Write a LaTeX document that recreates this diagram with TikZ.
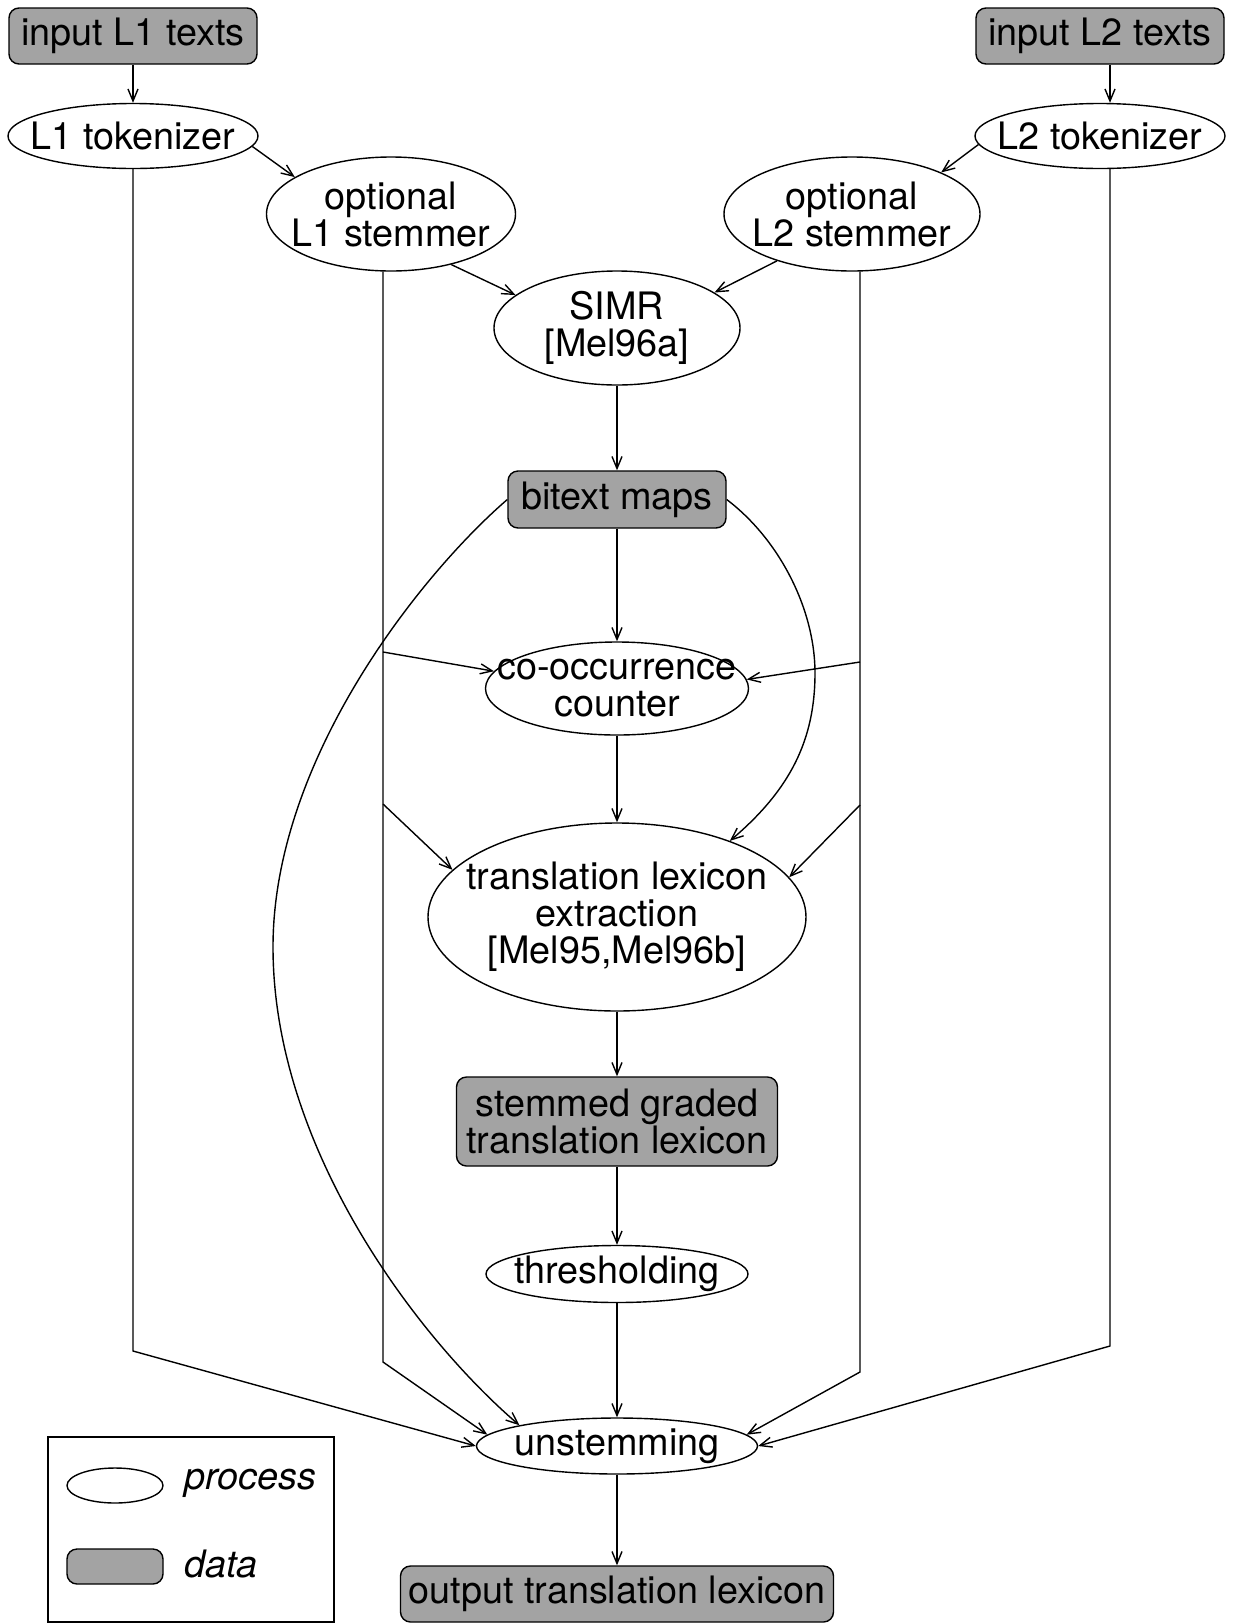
\documentclass[tikz,border=0pt]{standalone}
\usepackage{fontspec}
\setmainfont{TeX Gyre Heros}
\usetikzlibrary{arrows.meta,shapes.geometric}
\definecolor{datgray}{gray}{0.64}

\begin{document}
\begin{tikzpicture}[x=0.5pt, y=-0.5pt, >={Straight Barb[length=6pt,width=5pt]}, line width=0.7pt,
 proc/.style={draw, ellipse, inner xsep=-30pt, inner ysep=-20pt, align=center, font=\fontsize{18.9}{18.5}\selectfont},
 dat/.style={draw, rectangle, rounded corners=5pt, fill=datgray, inner sep=0pt, align=center, font=\fontsize{18.9}{18.5}\selectfont},
 leg/.style={font=\fontsize{18.9}{18.5}\selectfont\itshape, anchor=west, inner sep=0pt}]
\useasboundingbox (0,0) rectangle (1232,1623);
\node[dat, minimum width=124pt, minimum height=28pt] (in1) at (133,36) {input L1 texts};
\node[dat, minimum width=124pt, minimum height=28pt] (in2) at (1100,36) {input L2 texts};
\node[proc, minimum width=125pt, minimum height=32.5pt] (tok1) at (133,136) {L1 tokenizer};
\node[proc, minimum width=125pt, minimum height=32.5pt] (tok2) at (1100,136) {L2 tokenizer};
\node[proc, minimum width=124.5pt, minimum height=57pt] (stem1) at (391,214) {optional\\L1 stemmer};
\node[proc, minimum width=128pt, minimum height=57pt] (stem2) at (852,214) {optional\\L2 stemmer};
\node[proc, minimum width=123pt, minimum height=57pt] (simr) at (617,328) {SIMR\\{[Mel96a]}};
\node[dat, minimum width=109pt, minimum height=28.5pt] (bitext) at (617,499.5) {bitext maps};
\node[proc, minimum width=131.5pt, minimum height=46.5pt] (cooc) at (617,688.5) {co-occurrence\\counter};
\node[proc, minimum width=189pt, minimum height=94pt] (ext) at (617,917) {translation lexicon\\extraction\\{[Mel95,Mel96b]}};
\node[dat, minimum width=160.5pt, minimum height=44.5pt] (stemmed) at (617,1121.5) {stemmed graded\\translation lexicon};
\node[proc, minimum width=131pt, minimum height=28.5pt] (thr) at (617,1274) {thresholding};
\node[proc, minimum width=140.5pt, minimum height=28pt] (unstem) at (617,1446) {unstemming};
\node[dat, minimum width=216.5pt, minimum height=28pt] (out) at (617,1594) {output translation lexicon};
% legend
\node[draw, rectangle, inner sep=0pt, minimum width=143pt, minimum height=92.5pt] (legend) at (191,1529.5) {};
\node[proc, minimum width=48pt, minimum height=17.5pt] (lproc) at (115,1485.5) {};
\node[leg] (lproct) at (184,1483) {process};
\node[dat, minimum width=48pt, minimum height=17.5pt] (ldat) at (115,1566.5) {};
\node[leg] (ldatt) at (184,1564) {data};
% bends of the side lines
\coordinate (t1b) at (133,1351);
\coordinate (s1b) at (383,1362);
\coordinate (s2b) at (860,1372);
\coordinate (t2b) at (1110,1346);
\coordinate (s1c) at (383,652);
\coordinate (s1e) at (383,804);
\coordinate (s2c) at (860,662);
\coordinate (s2e) at (860,805);
\draw[->] (in1) -- (tok1);
\draw[->] (in2.south -| t2b) -- (tok2.north -| t2b);
\draw[->] (tok1.-5) -- (stem1.159);
\draw[->] (tok2.184) -- (stem2.25);
\draw[->] (stem1.-40) -- (simr.162);
\draw[->] (stem2.212) -- (simr.20);
\foreach \a/\b in {simr/bitext,bitext/cooc,cooc/ext,ext/stemmed,stemmed/thr,thr/unstem,unstem/out}
  \draw[->] (\a) -- (\b);
\draw[->] (tok1) -- (t1b) -- (unstem.180);
\draw[->] (stem1.south -| s1b) -- (s1b) -- (unstem.175);
\draw[->] (stem2.south -| s2b) -- (s2b) -- (unstem.5);
\draw[->] (tok2.south -| t2b) -- (t2b) -- (unstem.0);
\draw[->] (s1c) -- (cooc.172);
\draw[->] (s2c) -- (cooc.4);
\draw[->] (s1e) -- (ext.164);
\draw[->] (s2e) -- (ext.13);
\draw[->] (bitext.west) .. controls (420,575) and (273,760) .. (273,947)
  .. controls (273,1150) and (420,1340) .. (unstem.168);
\draw[->] (bitext.east) .. controls (780,540) and (815,610) .. (815,673)
  .. controls (815,740) and (790,790) .. (ext.34);
\end{tikzpicture}
\end{document}
